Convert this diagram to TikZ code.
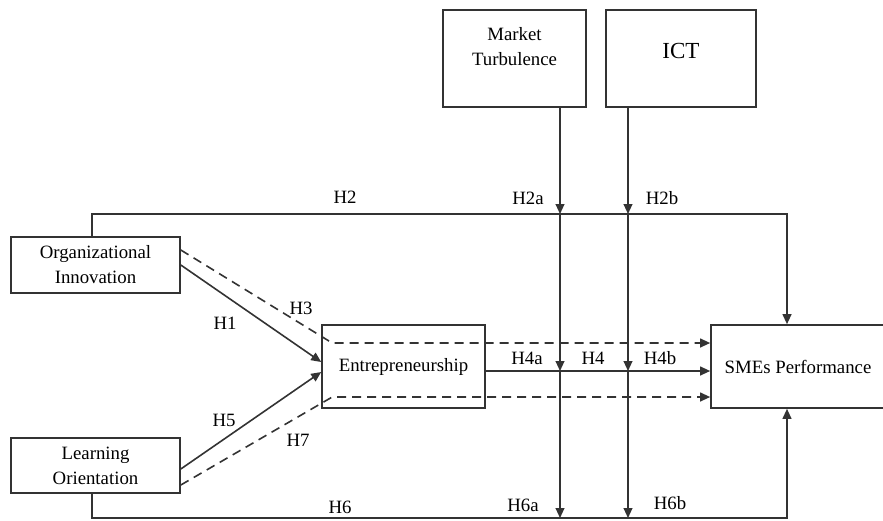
\documentclass[tikz,border=0pt]{standalone}
\usepackage{fontspec}
\setmainfont{Liberation Serif}
\usetikzlibrary{arrows.meta,calc}

\begin{document}
\begin{tikzpicture}[x=0.5pt, y=-0.5pt, font=\fontsize{9.4}{12.5}\selectfont,
  >={Triangle[length=5pt,width=4.4pt]},
  box/.style={draw=black!80, line width=0.8pt, inner sep=0pt, align=center},
  conn/.style={draw=black!80, line width=0.8pt},
  dashconn/.style={conn, dash pattern=on 4.5pt off 3pt},
  hyp/.style={inner sep=0pt}]
  \clip (0,0) rectangle (883,520);
  % constructs
  \node[box, minimum width=84.5pt, minimum height=28pt] (orginn) at (95.5,265) {Organizational\\Innovation};
  \node[box, minimum width=84.5pt, minimum height=27.5pt] (learn) at (95.5,465.5) {Learning\\Orientation};
  \node[box, minimum width=81.5pt, minimum height=41.5pt] (entre) at (403.5,366.5) {Entrepreneurship};
  \node[box, minimum width=87pt, minimum height=41.5pt] (perf) at (798,366.5) {SMEs Performance};
  \node[box, minimum width=71.5pt, minimum height=48.5pt, text depth=12pt] (market) at (514.5,58.5) {Market\\Turbulence};
  \node[box, minimum width=75pt, minimum height=48.5pt, text depth=8pt, font=\fontsize{11.5}{13}\selectfont] (ict) at (681,58.5) {ICT};
  % rows and columns of the connectors
  \coordinate (corg) at (92,0);
  \coordinate (cmt) at (560,0);
  \coordinate (cict) at (628,0);
  \coordinate (cperf) at (787,0);
  \coordinate (rtop) at (0,214);
  \coordinate (rup) at (0,343);
  \coordinate (rmid) at (0,371);
  \coordinate (rlow) at (0,397);
  \coordinate (rbot) at (0,518);
  \coordinate (d3) at ($(entre.west |- rup)+(11,0)$);
  \coordinate (d7) at ($(entre.west |- rlow)+(11,0)$);
  % edges
  \draw[conn,->] (orginn.north -| corg) |- (cperf |- rtop) -- (perf.north -| cperf);
  \draw[conn,->] (learn.south -| corg) |- (cperf |- rbot) -- (perf.south -| cperf);
  \draw[conn,->] (orginn.east) -- ([yshift=2.25pt]entre.west);
  \draw[conn,->] ([yshift=-1.75pt]learn.east) -- ([yshift=-2.75pt]entre.west);
  \draw[dashconn,->] ([yshift=7.5pt]orginn.east) -- (d3) -- (perf.west |- d3);
  \draw[dashconn,->] ([yshift=-9.75pt]learn.east) -- (d7) -- (perf.west |- d7);
  \draw[conn,->] (entre.east |- rmid) -- (perf.west |- rmid);
  % moderators
  \draw[conn,->] (market.south -| cmt) -- (cmt |- rtop);
  \draw[conn,->] (cmt |- rtop) -- (cmt |- rmid);
  \draw[conn,->] (cmt |- rmid) -- (cmt |- rbot);
  \draw[conn,->] (ict.south -| cict) -- (cict |- rtop);
  \draw[conn,->] (cict |- rtop) -- (cict |- rmid);
  \draw[conn,->] (cict |- rmid) -- (cict |- rbot);
  % hypotheses
  \node[hyp] (lh1) at (225,323) {H1};
  \node[hyp] (lh2) at (345,197) {H2};
  \node[hyp] (lh2a) at (528,198) {H2a};
  \node[hyp] (lh2b) at (662,198) {H2b};
  \node[hyp] (lh3) at (301,308) {H3};
  \node[hyp] (lh4a) at (527,358) {H4a};
  \node[hyp] (lh4) at (593,358) {H4};
  \node[hyp] (lh4b) at (660,358) {H4b};
  \node[hyp] (lh5) at (224,420) {H5};
  \node[hyp] (lh6) at (340,507) {H6};
  \node[hyp] (lh6a) at (523,505) {H6a};
  \node[hyp] (lh6b) at (670,503) {H6b};
  \node[hyp] (lh7) at (298,440) {H7};
\end{tikzpicture}
\end{document}
